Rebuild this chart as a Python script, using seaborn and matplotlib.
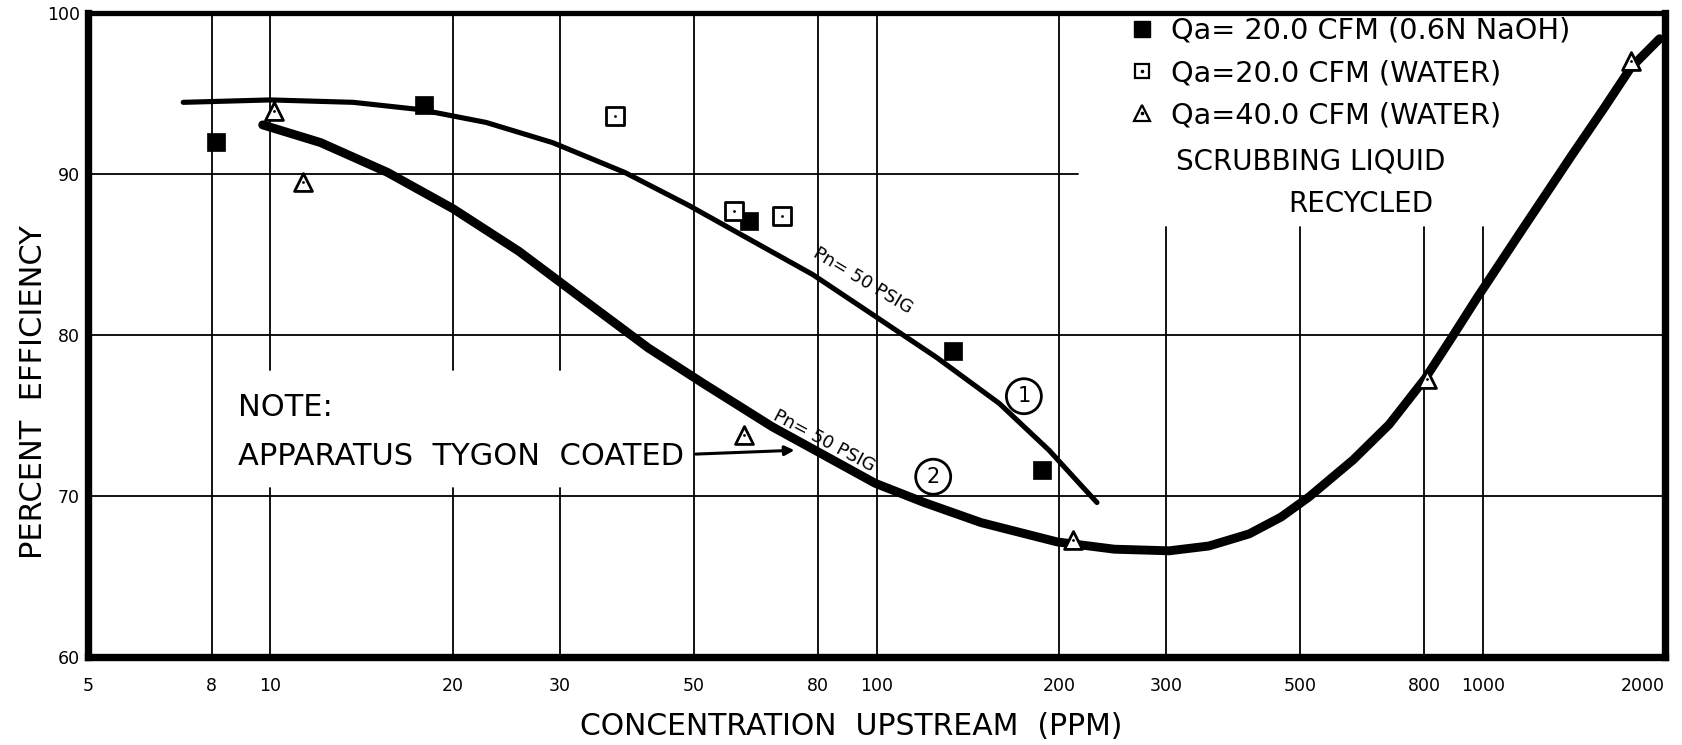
import numpy as np
import pandas as pd
import matplotlib
matplotlib.use("Agg")
import matplotlib.pyplot as plt
import seaborn as sns
from matplotlib.lines import Line2D
from matplotlib.legend_handler import HandlerTuple

# ---------------- data ----------------
naoh_x = [8.13, 17.9, 61.5, 133.6, 187.7]
naoh_y = [92.0, 94.3, 87.1, 79.0, 71.6]

w20_x = [37.0, 58.2, 69.7]
w20_y = [93.6, 87.7, 87.4]

w40_x = [10.15, 11.3, 60.5, 211, 810, 1755]
w40_y = [93.9, 89.5, 73.8, 67.3, 77.3, 97.0]

curve1_x = [7.18, 10.0, 13.7, 17.65, 22.7, 29.2, 38.4, 49.0, 60.0, 78.5, 98.7,
            125.7, 159.4, 192.5, 218.3, 231.0]
curve1_y = [94.45, 94.6, 94.45, 94.0, 93.2, 91.95, 90.1, 88.05, 86.2, 83.75, 81.25,
            78.6, 75.75, 72.85, 70.6, 69.6]

curve2_x = [9.71, 12.1, 15.6, 20.0, 25.7, 33.1, 42.0, 52.0, 67.3, 80.0, 99.4, 119.8,
            148.8, 198.7, 246.8, 303.9, 353.5, 411.8, 465.1, 517.1, 611.4, 701.1,
            803.6, 892.9, 978.4, 1148, 1405, 1586, 1755, 1958]
curve2_y = [93.05, 91.95, 90.1, 87.85, 85.2, 82.1, 79.2, 76.95, 74.3, 72.75, 70.8, 69.6,
            68.35, 67.15, 66.7, 66.6, 66.9, 67.65, 68.7, 69.95, 72.25, 74.45,
            77.3, 79.95, 82.3, 86.25, 91.2, 94.1, 96.6, 98.4]

x_ticks = [5, 8, 10, 20, 30, 50, 80, 100, 200, 300, 500, 800, 1000, 2000]
y_ticks = [60, 70, 80, 90, 100]

legend_labels = ["Qa= 20.0 CFM (0.6N NaOH)", "Qa=20.0 CFM (WATER)", "Qa=40.0 CFM (WATER)"]

# ---------------- figure ----------------
sns.set_theme(style="white")
plt.rcParams["font.family"] = ["DejaVu Sans"]

fig = plt.figure(figsize=(16.82, 7.45), dpi=100)
ax = fig.add_axes([0.0523, 0.118, 0.9377, 0.8646])
ax.set_xscale("log")
ax.set_xlim(5, 2000)
ax.set_ylim(60, 100)

# partial grid lines, like the hand-drawn graph paper
gcol = "black"
glw = 1.3
for v in [8, 50, 80, 100, 200]:
    ax.axvline(v, color=gcol, lw=glw, zorder=1)
for v in [10, 20, 30]:
    ax.axvline(v, ymin=0.0, ymax=0.262, color=gcol, lw=glw, zorder=1)
    ax.axvline(v, ymin=0.445, ymax=1.0, color=gcol, lw=glw, zorder=1)
for v in [300, 500, 800, 1000]:
    ax.axvline(v, ymin=0.0, ymax=0.667, color=gcol, lw=glw, zorder=1)
ax.axhline(90, xmin=0.0, xmax=0.628, color=gcol, lw=glw, zorder=1)
ax.axhline(80, color=gcol, lw=glw, zorder=1)
ax.axhline(70, color=gcol, lw=glw, zorder=1)

# curves
sns.lineplot(x=curve1_x, y=curve1_y, ax=ax, color="black", lw=3.7, sort=False,
             estimator=None, solid_capstyle="round", solid_joinstyle="round", zorder=3)
sns.lineplot(x=curve2_x, y=curve2_y, ax=ax, color="black", lw=6.4, sort=False,
             estimator=None, solid_capstyle="round", solid_joinstyle="round", zorder=3)

# data points
sns.scatterplot(x=naoh_x, y=naoh_y, ax=ax, marker="s", s=180, color="black",
                edgecolor="black", linewidth=0.5, zorder=5)
sns.scatterplot(x=w20_x, y=w20_y, ax=ax, marker="s", s=150, facecolor="white",
                edgecolor="black", linewidth=2.0, zorder=5)
sns.scatterplot(x=w20_x, y=w20_y, ax=ax, marker="o", s=4, color="black",
                edgecolor="black", linewidth=0, zorder=6)
sns.scatterplot(x=w40_x, y=w40_y, ax=ax, marker="^", s=165, facecolor="white",
                edgecolor="black", linewidth=2.0, zorder=5)
sns.scatterplot(x=w40_x, y=w40_y, ax=ax, marker="o", s=4, color="black",
                edgecolor="black", linewidth=0, zorder=6)

# axes styling
for side in ["left", "bottom", "right"]:
    ax.spines[side].set_linewidth(5.3)
ax.spines["top"].set_linewidth(3.8)
for s in ax.spines.values():
    s.set_color("black")
    s.set_zorder(7)

ax.set_xticks(x_ticks)
ax.set_xticklabels([str(t) for t in x_ticks])
ax.xaxis.set_minor_locator(matplotlib.ticker.NullLocator())
ax.set_yticks(y_ticks)
ax.set_yticklabels([str(t) for t in y_ticks])
ax.tick_params(axis="x", length=0, pad=14, labelsize=12.5, colors="black")
ax.tick_params(axis="y", length=0, pad=6, labelsize=12.5, colors="black")
ax.get_xticklabels()[-1].set_horizontalalignment("right")

ax.set_xlabel("CONCENTRATION  UPSTREAM  (PPM)", fontsize=21.5, color="black")
ax.xaxis.set_label_coords(0.4837, -0.085)
ax.set_ylabel("PERCENT  EFFICIENCY", fontsize=22, color="black")
ax.yaxis.set_label_coords(-0.0255, 0.412)

# annotations
ax.text(0.095, 0.387, "NOTE:", transform=ax.transAxes, fontsize=22,
        va="center", ha="left", color="black")
ax.text(0.095, 0.312, "APPARATUS  TYGON  COATED", transform=ax.transAxes, fontsize=22,
        va="center", ha="left", color="black")
ax.annotate("", xy=(74, 72.85), xytext=(49.8, 72.6),
            arrowprops=dict(arrowstyle="-|>", color="black", lw=2.2, mutation_scale=14),
            zorder=4)

ax.text(95, 83.4, "Pn= 50 PSIG", rotation=-31, fontsize=13, ha="center", va="center",
        rotation_mode="anchor", color="black", zorder=6)
ax.text(82, 73.45, "Pn= 50 PSIG", rotation=-28, fontsize=13, ha="center", va="center",
        rotation_mode="anchor", color="black", zorder=6)
circ = dict(boxstyle="circle,pad=0.36", fc="white", ec="black", lw=2.0)
ax.text(175, 76.2, "1", fontsize=15, ha="center", va="center", bbox=circ, color="black",
        zorder=6)
ax.text(124, 71.2, "2", fontsize=15, ha="center", va="center", bbox=circ, color="black",
        zorder=6)

# legend
dot = dict(ls="none", marker="o", ms=1.6, mfc="black", mec="black")
h1 = Line2D([], [], ls="none", marker="s", ms=11, mfc="black", mec="black")
h2 = (Line2D([], [], ls="none", marker="s", ms=10.5, mfc="white", mec="black", mew=1.6),
      Line2D([], [], **dot))
h3 = (Line2D([], [], ls="none", marker="^", ms=11.5, mfc="white", mec="black", mew=1.6),
      Line2D([], [], **dot))
leg = ax.legend([h1, h2, h3], legend_labels, loc="upper left",
                bbox_to_anchor=(0.643, 1.034), frameon=False, fontsize=20.7,
                handlelength=1.0, handletextpad=0.5, labelspacing=0.49,
                handler_map={tuple: HandlerTuple(ndivide=1, pad=0)})
for t in leg.get_texts():
    t.set_color("black")
ax.text(0.7755, 0.77, "SCRUBBING LIQUID", transform=ax.transAxes, fontsize=20,
        ha="center", va="center", color="black")
ax.text(0.807, 0.703, "RECYCLED", transform=ax.transAxes, fontsize=20,
        ha="center", va="center", color="black")

fig.savefig("out.png", dpi=100, facecolor="white")
